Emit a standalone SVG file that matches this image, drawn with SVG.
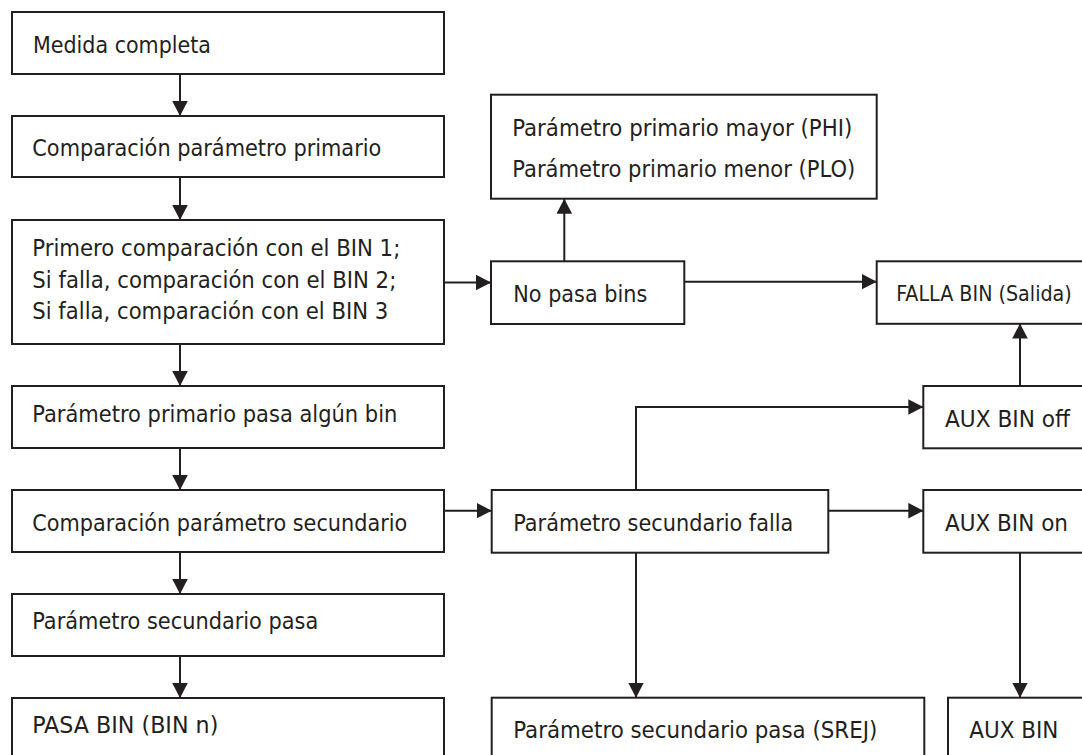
<svg xmlns="http://www.w3.org/2000/svg" width="1082" height="755" viewBox="0 0 1082 755">
<style>
.box{fill:#fff;stroke:#231f20;stroke-width:2}
.t{font-family:"DejaVu Sans Condensed","DejaVu Sans",sans-serif;font-stretch:condensed;font-size:23px;fill:#231f20}
.ts{font-size:20.5px}
.c{fill:none;stroke:#231f20;stroke-width:2;marker-end:url(#ah)}
</style>
<defs>
<marker id="ah" markerUnits="userSpaceOnUse" markerWidth="16" markerHeight="16" refX="15" refY="7.8" orient="auto">
<path d="M0,0 L15,7.8 L0,15.6 z" fill="#231f20"/>
</marker>
</defs>
<rect width="1082" height="755" fill="#fff"/>
<g id="connectors">
<path class="c" d="M180,74 V116"/>
<path class="c" d="M180,177 V220"/>
<path class="c" d="M180,344 V386"/>
<path class="c" d="M180,448 V490"/>
<path class="c" d="M180,552 V594"/>
<path class="c" d="M180,656 V698"/>
<path class="c" d="M444,282.5 H491"/>
<path class="c" d="M564.3,261.3 V198.7"/>
<path class="c" d="M684.3,281.7 H876.7"/>
<path class="c" d="M1020,386 V323.5"/>
<path class="c" d="M636,490 V407 H923.3"/>
<path class="c" d="M444,510.7 H491.7"/>
<path class="c" d="M828.3,510.7 H923.3"/>
<path class="c" d="M636,552.7 V697.7"/>
<path class="c" d="M1020,552.7 V697.7"/>
</g>
<g id="n1"><rect class="box" x="12" y="12" width="432" height="62"/><text class="t" x="33" y="53" textLength="178" lengthAdjust="spacingAndGlyphs">Medida completa</text></g>
<g id="n2"><rect class="box" x="12" y="116" width="432" height="61"/><text class="t" x="32.3" y="156" textLength="349" lengthAdjust="spacingAndGlyphs">Comparación parámetro primario</text></g>
<g id="n3"><rect class="box" x="12" y="220" width="432" height="124"/>
<text class="t" x="32.3" y="256" textLength="368" lengthAdjust="spacingAndGlyphs">Primero comparación con el BIN 1;</text>
<text class="t" x="32.3" y="287.5" textLength="364" lengthAdjust="spacingAndGlyphs">Si falla, comparación con el BIN 2;</text>
<text class="t" x="32.3" y="319" textLength="356" lengthAdjust="spacingAndGlyphs">Si falla, comparación con el BIN 3</text></g>
<g id="n4"><rect class="box" x="12" y="386" width="432" height="62"/><text class="t" x="32.3" y="422" textLength="365" lengthAdjust="spacingAndGlyphs">Parámetro primario pasa algún bin</text></g>
<g id="n5"><rect class="box" x="12" y="490" width="432" height="62"/><text class="t" x="32.3" y="530.7" textLength="375" lengthAdjust="spacingAndGlyphs">Comparación parámetro secundario</text></g>
<g id="n6"><rect class="box" x="12" y="594" width="432" height="62"/><text class="t" x="32.3" y="629.3" textLength="286" lengthAdjust="spacingAndGlyphs">Parámetro secundario pasa</text></g>
<g id="n7"><rect class="box" x="12" y="698" width="432" height="80"/><text class="t" x="32.3" y="733.3" textLength="186" lengthAdjust="spacingAndGlyphs">PASA BIN (BIN n)</text></g>
<g id="n8"><rect class="box" x="491" y="94.7" width="385.7" height="104"/>
<text class="t" x="512.3" y="136" textLength="340" lengthAdjust="spacingAndGlyphs">Parámetro primario mayor (PHI)</text>
<text class="t" x="512.3" y="177.3" textLength="343" lengthAdjust="spacingAndGlyphs">Parámetro primario menor (PLO)</text></g>
<g id="n9"><rect class="box" x="491" y="261.3" width="193.3" height="62.7"/><text class="t" x="513.3" y="301.7" textLength="134" lengthAdjust="spacingAndGlyphs">No pasa bins</text></g>
<g id="n10"><rect class="box" x="876.7" y="261.3" width="230" height="62.5"/><text class="t ts" x="896.3" y="301" textLength="175.5" lengthAdjust="spacingAndGlyphs">FALLA BIN (Salida)</text></g>
<g id="n11"><rect class="box" x="923.3" y="386" width="180" height="62.3"/><text class="t" x="945" y="426.7" textLength="125" lengthAdjust="spacingAndGlyphs">AUX BIN off</text></g>
<g id="n12"><rect class="box" x="491.7" y="490" width="336.6" height="62.7"/><text class="t" x="513.3" y="530.7" textLength="280" lengthAdjust="spacingAndGlyphs">Parámetro secundario falla</text></g>
<g id="n13"><rect class="box" x="923.3" y="490" width="180" height="62.7"/><text class="t" x="945" y="530.7" textLength="123" lengthAdjust="spacingAndGlyphs">AUX BIN on</text></g>
<g id="n14"><rect class="box" x="491.7" y="697.7" width="432.6" height="80"/><text class="t" x="513.3" y="738.3" textLength="364" lengthAdjust="spacingAndGlyphs">Parámetro secundario pasa (SREJ)</text></g>
<g id="n15"><rect class="box" x="948" y="697.7" width="150" height="80"/><text class="t" x="969.3" y="738.3" textLength="89" lengthAdjust="spacingAndGlyphs">AUX BIN</text></g>
</svg>
